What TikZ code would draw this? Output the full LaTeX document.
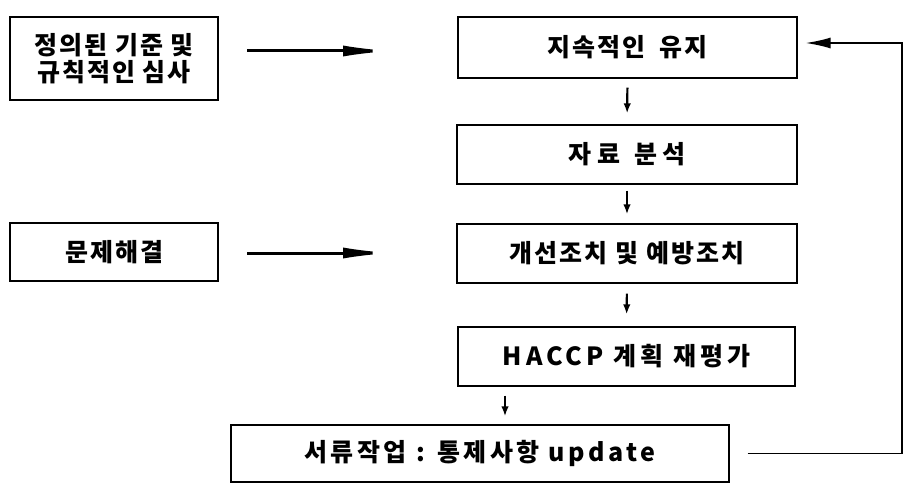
\documentclass[tikz,border=0pt]{standalone}
\usepackage{fontspec}
\setmainfont{Noto Sans CJK KR}
\usetikzlibrary{arrows.meta}
\begin{document}
\begin{tikzpicture}[x=1pt,y=-1pt,
  box/.style={draw,line width=1.3pt,inner sep=0pt,font=\fontsize{25}{30}\selectfont\bfseries\addfontfeature{LetterSpace=8},align=center},
  bigarrow/.style={line width=3pt,-{Latex[length=50pt,width=11pt]}},
  sarrow/.style={line width=2.2pt,-{Latex[length=10pt,width=7.5pt]}},
  fb/.style={line width=1.5pt,-{Latex[length=25pt,width=11pt]}}]
\useasboundingbox (0,0) rectangle (909,486);
\node[box,minimum width=208pt,minimum height=83pt] (A) at (114,58.5) {정의된 기준 및\\[-3pt]규칙적인 심사};
\node[box,minimum width=208pt,minimum height=58pt] (G) at (114,252) {문제해결};
\node[box,minimum width=339pt,minimum height=61pt] (B) at (627.5,47.5) {지속적인\hspace{14pt}유지};
\node[box,minimum width=340pt,minimum height=59pt] (C) at (627,154.5) {\addfontfeature{LetterSpace=0}자 료\hspace{14pt}분 석};
\node[box,minimum width=340pt,minimum height=59pt] (D) at (627,253.5) {개선조치 및 예방조치};
\node[box,minimum width=337pt,minimum height=59pt] (E) at (626.5,356.5) {\addfontfeature{LetterSpace=16}HACCP 계획 재평가};
\node[box,minimum width=498pt,minimum height=57pt] (F) at (480,453.5) {\addfontfeature{LetterSpace=14}서류작업 : 통제사항 update};
\coordinate (a1s) at (247,51);
\coordinate (a1e) at (393,51);
\coordinate (a2s) at (247,253);
\coordinate (a2e) at (393,253);
\draw[bigarrow] (a1s) -- (a1e);
\draw[bigarrow] (a2s) -- (a2e);
\draw[sarrow,shorten <=9pt,shorten >=11pt] (B.south) -- (C.north);
\draw[sarrow,shorten <=6pt,shorten >=9pt] (C.south) -- (D.north);
\draw[sarrow,shorten <=10pt,shorten >=12pt] (D.south) -- (E.north);
\draw[sarrow,shorten <=9pt,shorten >=8pt] (E.south -| 505,0) -- (F.north -| 505,0);
\coordinate (fbc) at (902,43);
\draw[fb] ([xshift=18pt]F.east) -| (fbc) -- ([xshift=8pt,yshift=4.5pt]B.east);
\end{tikzpicture}
\end{document}
